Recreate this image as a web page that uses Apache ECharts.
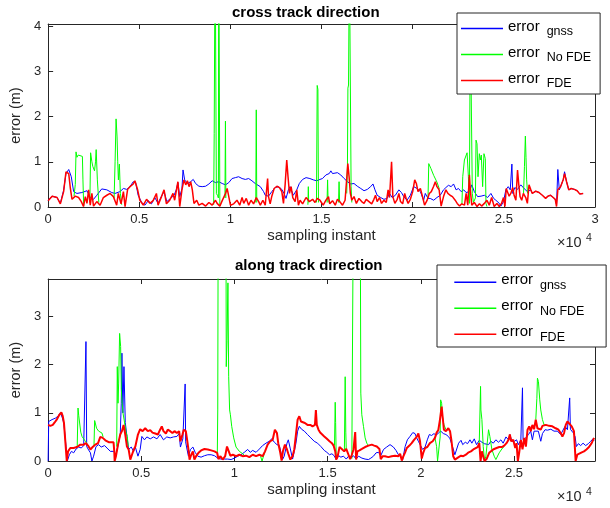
<!DOCTYPE html>
<html><head><meta charset="utf-8">
<script src="https://cdn.jsdelivr.net/npm/echarts@6/dist/echarts.min.js"></script>
<style>html,body{margin:0;padding:0;background:#fff}#c{width:610px;height:508px}</style>
</head><body><div id="c"></div>
<script>
// ---------- data (x = sampling instant, y = error in metres) ----------
const seriesNames = ['gnss', 'No FDE', 'FDE'];
const xTickLabels = ['0', '0.5', '1', '1.5', '2', '2.5', '3'];
const yTickLabelsTop = ['0', '1', '2', '3', '4'];
const yTickLabelsBottom = ['0', '1', '2', '3'];
const titles = ['cross track direction', 'along track direction'];

const blueTop = [[0,0.15],[220,0.24],[490,0.21],[670,0.08],[850,0.37],[980,0.74],[1130,0.83],[1270,0.67],[1400,0.34],[1580,0.30],[1850,0.32],[2130,0.36],[2310,0.21],[2490,0.17],[2670,0.26],[2940,0.40],[3220,0.38],[3490,0.32],[3670,0.30],[3940,0.34],[4130,0.41],[4310,0.39],[4490,0.45],[4670,0.56],[4800,0.54],[4940,0.26],[5130,0.10],[5310,0.04],[5490,0.14],[5670,0.07],[5850,0.21],[6030,0.08],[6220,0.24],[6360,0.34],[6510,0.12],[6720,0.19],[6910,0.26],[7030,0.38],[7120,0.54],[7220,0.23],[7340,0.40],[7400,0.82],[7490,0.60],[7640,0.52],[7820,0.56],[7960,0.61],[8090,0.52],[8270,0.46],[8450,0.45],[8640,0.46],[8820,0.51],[9000,0.58],[9180,0.54],[9360,0.56],[9550,0.52],[9730,0.49],[9910,0.54],[10090,0.63],[10270,0.65],[10450,0.67],[10640,0.63],[10820,0.61],[11000,0.63],[11180,0.58],[11360,0.52],[11640,0.45],[11820,0.34],[11910,0.26],[12090,0.24],[12270,0.34],[12450,0.43],[12640,0.45],[12820,0.39],[12940,0.30],[13050,0.19],[13180,0.38],[13270,0.45],[13450,0.26],[13640,0.38],[13780,0.52],[13960,0.61],[14150,0.65],[14360,0.63],[14550,0.60],[14730,0.58],[14910,0.61],[15050,0.63],[15240,0.71],[15420,0.74],[15510,0.80],[15600,0.74],[15690,0.71],[15870,0.76],[16050,0.71],[16240,0.63],[16420,0.56],[16600,0.51],[16780,0.52],[16960,0.46],[17150,0.41],[17330,0.36],[17510,0.39],[17690,0.45],[17820,0.51],[17930,0.38],[18050,0.26],[18240,0.21],[18420,0.17],[18600,0.19],[18730,0.30],[18870,0.21],[19050,0.26],[19240,0.38],[19380,0.32],[19510,0.23],[19690,0.15],[19870,0.26],[20050,0.45],[20240,0.41],[20420,0.34],[20600,0.15],[20690,0.30],[20840,0.19],[20960,0.19],[21150,0.15],[21330,0.21],[21510,0.26],[21690,0.38],[21820,0.43],[21960,0.48],[22110,0.45],[22240,0.51],[22380,0.38],[22510,0.41],[22660,0.34],[22800,0.38],[22930,0.32],[23110,0.34],[23240,0.49],[23380,0.34],[23560,0.23],[23750,0.24],[23930,0.26],[24110,0.21],[24290,0.30],[24440,0.19],[24560,0.15],[24750,0.08],[24840,0.02],[24980,0.12],[25110,0.38],[25240,0.45],[25350,0.38],[25440,0.95],[25490,0.30],[25600,0.43],[25750,0.39],[25930,0.49],[26110,0.41],[26290,0.34],[26470,0.38],[26560,0.30],[26750,0.35],[26930,0.32],[27110,0.26],[27290,0.19],[27420,0.24],[27560,0.26],[27710,0.21],[27820,0.17],[27890,0.05],[27960,0.83],[28040,0.38],[28110,0.45],[28260,0.61],[28330,0.78],[28440,0.56],[28560,0.38],[28690,0.41],[28870,0.39],[29020,0.36],[29160,0.29],[29250,0.30],[29350,0.30]];

const redTop = [[0,0.14],[220,0.24],[490,0.21],[670,0.07],[850,0.34],[980,0.78],[1130,0.74],[1220,0.41],[1310,0.17],[1490,0.24],[1670,0.21],[1820,0.12],[1940,0.01],[2040,0.23],[2130,0.08],[2220,0.38],[2310,0.04],[2400,0.30],[2490,0.02],[2670,0.12],[2850,0.04],[3030,0.21],[3220,0.26],[3400,0.30],[3580,0.23],[3760,0.04],[3850,0.30],[4000,0.07],[4130,0.34],[4220,0.01],[4360,0.39],[4490,0.45],[4670,0.51],[4760,0.58],[4910,0.38],[5030,0.15],[5220,0.04],[5400,0.17],[5580,0.08],[5760,0.14],[5940,0.30],[6030,0.04],[6220,0.23],[6360,0.38],[6490,0.07],[6670,0.15],[6850,0.30],[6940,0.15],[7120,0.56],[7220,0.01],[7340,0.38],[7450,0.60],[7550,0.49],[7640,0.58],[7730,0.45],[7820,0.56],[7910,0.38],[8000,0.08],[8150,0.15],[8270,0.04],[8450,0.08],[8640,0.02],[8820,0.10],[9000,0.04],[9180,0.15],[9270,0.08],[9420,0.02],[9550,0.14],[9730,0.30],[9820,0.41],[9910,0.23],[10000,0.04],[10180,0.07],[10360,0.15],[10510,0.04],[10640,0.21],[10730,0.08],[10870,0.19],[11000,0.04],[11130,0.15],[11270,0.07],[11420,0.21],[11550,0.12],[11640,0.04],[11780,0.15],[11910,0.04],[12040,0.63],[12090,0.23],[12180,0.07],[12270,0.24],[12400,0.41],[12550,0.46],[12690,0.43],[12820,0.34],[12910,0.08],[13000,0.49],[13090,1.04],[13160,0.67],[13240,0.30],[13330,0.45],[13420,0.21],[13550,0.12],[13640,0.38],[13730,0.04],[13820,0.15],[13960,0.07],[14150,0.21],[14330,0.12],[14510,0.17],[14640,0.10],[14760,0.19],[14910,0.15],[14960,0.17],[15090,0.04],[15240,0.15],[15380,0.23],[15450,0.07],[15600,0.14],[15750,0.04],[15870,0.17],[16000,0.12],[16150,0.04],[16290,0.15],[16360,0.52],[16440,0.96],[16510,0.67],[16580,0.30],[16660,0.15],[16780,0.23],[16910,0.08],[17050,0.19],[17200,0.12],[17330,0.08],[17450,0.17],[17600,0.12],[17750,0.07],[17870,0.17],[17960,0.26],[18050,0.12],[18180,0.21],[18290,0.08],[18420,0.15],[18550,0.10],[18650,0.38],[18730,0.21],[18840,1.0],[18910,0.23],[19020,0.08],[19150,0.17],[19240,0.30],[19330,0.12],[19450,0.07],[19560,0.30],[19640,0.19],[19750,0.08],[19870,0.17],[20000,0.34],[20110,0.60],[20200,0.52],[20290,0.34],[20420,0.41],[20550,0.21],[20650,0.04],[20780,0.14],[20910,0.30],[21020,0.34],[21150,0.46],[21240,0.56],[21330,0.45],[21450,0.38],[21560,0.02],[21690,0.23],[21820,0.38],[21930,0.30],[22050,0.26],[22180,0.23],[22330,0.15],[22440,0.08],[22570,0.02],[22690,0.07],[22840,0.04],[22930,0.30],[23020,0.04],[23110,0.71],[23160,0.38],[23240,0.04],[23380,0.10],[23530,0.01],[23660,0.07],[23780,0.02],[23930,0.08],[24070,0.15],[24200,0.04],[24330,0.21],[24470,0.01],[24620,0.08],[24750,0.01],[24870,0.08],[24980,0.21],[25060,0.01],[25130,0.41],[25200,0.38],[25290,0.24],[25380,0.30],[25490,0.43],[25560,0.26],[25660,0.15],[25750,0.82],[25820,0.49],[25890,0.23],[25980,0.15],[26070,0.30],[26200,0.21],[26290,0.08],[26380,0.49],[26470,0.39],[26560,0.30],[26750,0.35],[26930,0.32],[27110,0.26],[27290,0.19],[27420,0.24],[27560,0.26],[27710,0.21],[27820,0.17],[27890,0.01],[27960,0.38],[28110,0.45],[28260,0.61],[28330,0.74],[28440,0.56],[28560,0.38],[28690,0.41],[28870,0.39],[29020,0.36],[29160,0.29],[29250,0.30],[29350,0.30]];

// green (No FDE) only where it departs from the FDE curve; elsewhere it lies under it
const greenTopSegments = [
  [[1420,0.24],[1490,0.5],[1530,1.22],[1580,1.1],[1650,1.15],[1750,1.12],[1880,1.12],[1910,0.6],[1950,0.02]],
  [[2290,0.1],[2330,1.2],[2400,1.0],[2450,0.9],[2545,0.8],[2600,1.0],[2636,1.27],[2700,0.6],[2780,0.1]],
  [[3620,0.2],[3673,1.0],[3727,1.95],[3782,1.55],[3818,1.0],[3855,0.6],[3909,0.95],[3964,0.3],[4036,0.05]],
  [[9080,0.05],[9110,1.62],[9140,1.6],[9160,6],[9200,6],[9230,0.3],[9300,0.25],[9340,0.2],[9360,6],[9390,6],[9420,0.02]],
  [[9700,0.2],[9727,1.9],[9750,0.2]],
  [[11390,0.1],[11418,2.15],[11445,0.1]],
  [[14250,0.05],[14273,0.45],[14295,0.1]],
  [[14720,0.1],[14760,2.69],[14800,2.6],[14830,0.1]],
  [[15300,0.1],[15330,0.6],[15360,0.1]],
  [[15930,0.1],[15960,0.56],[15990,0.1]],
  [[16380,0.3],[16420,0.9],[16445,2.63],[16480,2.7],[16500,4.04],[16520,6],[16590,6],[16620,0.45],[16660,0.1]],
  [[20840,0.2],[20880,0.96],[21000,0.85],[21150,0.7],[21330,0.55],[21460,0.4]],
  [[22700,0.05],[22745,0.67],[22836,1.04],[22927,1.0],[22982,1.2],[23055,0.67],[23109,0.08],[23140,0.1],[23160,4.3],[23230,4.3],[23270,0.3],[23330,0.1],[23440,0.2],[23473,1.48],[23527,1.4],[23582,0.67],[23655,1.18],[23709,1.04],[23764,1.15],[23836,0.45],[23909,1.18],[23982,1.07],[24018,0.08],[24073,0.01]],
  [[26080,0.3],[26130,0.9],[26180,1.57],[26215,1.1],[26250,0.6],[26300,0.3]]
];

const blueBottom = [[0,0],[30,0.82],[210,0.86],[390,0.89],[530,0.93],[660,1.0],[750,0.91],[840,0.79],[960,0.30],[1030,0],[1140,0.13],[1250,0.20],[1370,0.17],[1500,0.25],[1640,0.29],[1780,0.27],[1910,0.32],[2000,0.30],[2030,2.48],[2070,0.30],[2140,0.25],[2270,0.17],[2350,0],[2440,0.10],[2570,0.30],[2710,0.34],[2850,0.29],[3030,0.32],[3210,0.25],[3340,0.20],[3510,0.20],[3640,0.13],[3780,0.37],[3870,0.55],[3925,1.2],[3960,2.24],[4010,1.0],[4070,1.96],[4140,0.8],[4230,0.51],[4320,0.24],[4460,0.29],[4590,0.20],[4680,0.29],[4820,0.10],[4940,0.24],[5030,0.51],[5170,0.44],[5300,0.50],[5480,0.46],[5660,0.50],[5840,0.46],[6010,0.55],[6190,0.44],[6370,0.50],[6550,0.48],[6730,0.50],[6910,0.51],[7030,0.57],[7100,0.29],[7230,0.46],[7330,0.45],[7354,1.6],[7380,0.40],[7430,0.29],[7530,0.10],[7640,0.24],[7770,0.29],[7890,0.18],[8030,0.10],[8210,0.08],[8390,0.11],[8570,0.13],[8750,0.13],[8930,0.11],[9100,0.06],[9280,0.04],[9460,0.04],[9640,0.04],[9820,0.03],[10000,0.06],[10180,0.10],[10350,0.13],[10530,0.18],[10710,0.24],[10850,0.18],[10980,0.22],[11160,0.18],[11340,0.25],[11510,0.32],[11690,0.37],[11870,0.41],[12000,0.46],[12140,0.39],[12280,0.34],[12410,0.32],[12500,0.17],[12580,0.03],[12670,0.10],[12820,0.37],[12890,0.44],[13000,0.25],[13120,0.04],[13210,0.20],[13300,0.37],[13390,0.62],[13480,0.72],[13600,0.66],[13750,0.62],[13920,0.55],[14100,0.48],[14280,0.41],[14460,0.37],[14640,0.30],[14690,0.29],[14820,0.22],[14960,0.18],[15100,0.13],[15230,0.15],[15350,0.11],[15460,0.03],[15590,0.11],[15710,0.08],[15850,0.10],[16000,0.04],[16120,0.10],[16250,0.06],[16390,0.11],[16530,0.04],[16660,0.10],[16840,0.06],[17010,0.04],[17190,0.03],[17320,0.06],[17460,0.10],[17600,0.17],[17730,0.18],[17850,0.11],[18000,0.24],[18170,0.29],[18350,0.34],[18530,0.29],[18670,0.22],[18800,0.13],[18920,0.10],[19030,0.03],[19160,0.30],[19280,0.44],[19420,0.51],[19570,0.59],[19690,0.57],[19780,0.48],[19870,0.41],[19990,0.32],[20100,0.24],[20230,0.29],[20350,0.44],[20460,0.55],[20580,0.53],[20710,0.57],[20820,0.53],[20940,0.58],[21070,0.62],[21210,0.57],[21350,0.55],[21480,0.51],[21570,0.46],[21710,0.29],[21830,0.13],[21920,0.17],[22030,0.37],[22160,0.43],[22250,0.34],[22390,0.39],[22510,0.36],[22640,0.44],[22740,0.37],[22870,0.46],[22990,0.34],[23140,0.43],[23280,0.39],[23410,0.36],[23490,0.39],[23640,0.34],[23760,0.41],[23890,0.37],[24030,0.44],[24170,0.39],[24300,0.44],[24420,0.37],[24570,0.50],[24710,0.44],[24780,0.55],[24890,0.41],[25030,0.41],[25140,0.44],[25240,0.34],[25370,0.44],[25430,0.44],[25458,1.52],[25490,0.44],[25640,0.48],[25780,0.55],[25900,0.62],[25990,0.44],[26080,0.62],[26170,0.65],[26310,0.62],[26440,0.41],[26530,0.57],[26670,0.65],[26800,0.64],[26980,0.66],[27150,0.62],[27330,0.62],[27510,0.55],[27600,0.57],[27740,0.72],[27870,0.65],[27960,0.68],[27992,1.31],[28030,0.66],[28170,0.59],[28280,0.51],[28350,0.30],[28460,0.36],[28580,0.32],[28710,0.37],[28850,0.32],[28990,0.36],[29120,0.41],[29240,0.46],[29300,0.42]];

const redBottom = [[0,0.75],[120,0.73],[250,0.75],[350,0.80],[480,0.87],[600,0.96],[710,1.01],[780,0.94],[850,0.79],[930,0.37],[1000,0],[1070,0.20],[1190,0.27],[1370,0.27],[1550,0.29],[1730,0.34],[1910,0.34],[2030,0.37],[2140,0.32],[2270,0.24],[2390,0.29],[2530,0.34],[2680,0.37],[2800,0.50],[2930,0.48],[3070,0.43],[3250,0.39],[3390,0.39],[3510,0.39],[3550,0.20],[3570,0],[3640,0.10],[3750,0.34],[3870,0.55],[3960,0.62],[4050,0.75],[4140,0.55],[4230,0.30],[4320,0.24],[4410,0.03],[4500,0.13],[4600,0.24],[4680,0.30],[4820,0.55],[4940,0.66],[5070,0.62],[5210,0.68],[5350,0.62],[5480,0.64],[5600,0.59],[5750,0.57],[5890,0.55],[6010,0.65],[6100,0.72],[6190,0.62],[6320,0.57],[6420,0.65],[6550,0.62],[6670,0.58],[6780,0.62],[6910,0.58],[7030,0.62],[7100,0.41],[7210,0.55],[7280,0.65],[7390,0.62],[7460,0.44],[7530,0.24],[7590,0.03],[7680,0.13],[7770,0.20],[7850,0.03],[7940,0.10],[8070,0.17],[8210,0.22],[8390,0.25],[8570,0.24],[8750,0.22],[8930,0.20],[9070,0.17],[9140,0.04],[9250,0.10],[9370,0.03],[9500,0.10],[9600,0.30],[9680,0.29],[9780,0.11],[9910,0.13],[10090,0.10],[10260,0.13],[10440,0.10],[10620,0.11],[10800,0.08],[10980,0.13],[11160,0.10],[11340,0.13],[11510,0.10],[11640,0.20],[11780,0.34],[11920,0.41],[12050,0.44],[12170,0.65],[12280,0.58],[12350,0.37],[12460,0.17],[12530,0.01],[12600,0.20],[12710,0.34],[12820,0.24],[12890,0.15],[13000,0.03],[13120,0.10],[13210,0.24],[13300,0.55],[13390,0.86],[13480,0.93],[13570,0.82],[13670,0.80],[13780,0.79],[13920,0.75],[14070,0.75],[14190,0.72],[14320,0.75],[14370,1.06],[14420,0.75],[14510,0.65],[14600,0.59],[14690,0.55],[14820,0.51],[14960,0.46],[15100,0.41],[15230,0.37],[15320,0.32],[15410,0.20],[15460,0.03],[15530,0.08],[15640,0.29],[15760,0.25],[15890,0.20],[16000,0.25],[16120,0.13],[16210,0.04],[16300,0.13],[16390,0.24],[16480,0.6],[16530,0.03],[16600,0.20],[16710,0.22],[16840,0.25],[17010,0.29],[17190,0.32],[17370,0.34],[17500,0.32],[17640,0.30],[17780,0.25],[17850,0.04],[17960,0.10],[18080,0.10],[18260,0.08],[18440,0.10],[18620,0.11],[18800,0.10],[18890,0.15],[18980,0.01],[19070,0.10],[19160,0.18],[19250,0.27],[19390,0.32],[19510,0.37],[19640,0.44],[19780,0.50],[19870,0.57],[19960,0.41],[20050,0.05],[20140,0.18],[20230,0.27],[20350,0.29],[20490,0.37],[20640,0.41],[20760,0.48],[20850,0.59],[20940,0.64],[21030,0.86],[21120,1.13],[21170,0.93],[21240,0.65],[21350,0.62],[21480,0.68],[21570,0.62],[21650,0.41],[21740,0.10],[21830,0.03],[21920,0.06],[22030,0.08],[22160,0.11],[22280,0.10],[22420,0.13],[22570,0.18],[22690,0.20],[22820,0.24],[22920,0.27],[23050,0.29],[23140,0.37],[23208,0],[23280,0.20],[23350,0.10],[23420,0],[23530,0.04],[23670,0.17],[23820,0.22],[23940,0.25],[24070,0.27],[24210,0.29],[24350,0.29],[24480,0.32],[24600,0.37],[24710,0.44],[24780,0.55],[24850,0.41],[24960,0.44],[25070,0.27],[25140,0.37],[25210,0],[25280,0.17],[25370,0.44],[25460,0.24],[25550,0.48],[25640,0.30],[25730,0.65],[25820,0.72],[25900,0.62],[25990,0.75],[26080,0.66],[26170,0.86],[26260,0.68],[26350,0.72],[26440,0.65],[26530,0.73],[26710,0.75],[26890,0.73],[27060,0.72],[27240,0.68],[27390,0.65],[27510,0.58],[27600,0.51],[27690,0.58],[27780,0.75],[27870,0.82],[27960,0.79],[28100,0.72],[28220,0.62],[28310,0],[28400,0.13],[28490,0.13],[28640,0.18],[28760,0.20],[28890,0.24],[29030,0.29],[29170,0.37],[29300,0.48]];

const greenBottomSegments = [
  [[1560,0.29],[1604,1.1],[1640,0.95],[1750,0.6],[1818,0.51],[1997,0.41],[2090,0.37]],
  [[2460,0.3],[2497,0.84],[2600,0.68],[2711,0.62],[2890,0.58],[2950,0.5]],
  [[3680,0.3],[3712,1.96],[3750,1.2],[3784,1.6],[3837,2.65],[3891,2.38],[3926,1.5],[3970,1.2],[4017,1.0],[4105,0.79],[4180,0.6],[4248,0.51],[4300,0.3]],
  [[9080,0.17],[9104,1.06],[9130,6],[9540,6],[9560,1.96],[9600,2.5],[9650,3.7],[9690,1.75],[9740,1.06],[9782,0.96],[9853,0.72],[9960,0.48],[10085,0.29],[10264,0.2],[10442,0.15],[10550,0.11]],
  [[11400,0.1],[11480,0.0],[11580,0.02],[11640,0.2]],
  [[14950,0.46],[15000,0.48],[15050,0.44]],
  [[15370,0.32],[15407,1.22],[15430,0.8],[15460,0.1]],
  [[15900,0.2],[15942,1.75],[15975,0.6],[16000,0.25]],
  [[16300,0.05],[16389,6],[16746,6],[16781,1.41],[16835,0.96],[16924,0.72],[17013,0.48],[17103,0.37],[17192,0.32]],
  [[20760,0.48],[20850,0.3],[20900,0.0],[21000,0.0],[21040,0.5],[21065,1.27],[21119,1.2],[21172,0.9],[21244,0.75],[21351,0.65]],
  [[23137,0.37],[23208,1.55],[23226,1.06],[23280,0.86],[23351,0.3],[23423,0],[23494,0.1],[23637,0.65],[23708,0.51],[23815,0.24],[23940,0.1],[24030,0.03],[24208,0.17],[24387,0.27],[24476,0.3]],
  [[26172,0.86],[26230,1.3],[26261,1.72],[26314,1.65],[26385,1.27],[26439,1.06],[26529,0.86],[26618,0.75],[26707,0.75]]
];

// ---------- chart ----------
const FONT = '"Liberation Sans", Arial, Helvetica, sans-serif';
const AX = '#262626';
const COLORS = ['#0000ff', '#00ff00', '#ff0000'];

function joinSegments(segs) {
  const out = [];
  segs.forEach((s, i) => {
    if (i > 0) out.push([(segs[i - 1][segs[i - 1].length - 1][0] + s[0][0]) / 2, '-']);
    s.forEach(p => out.push(p));
  });
  return out;
}

function lineSeries(name, data, color, width, idx, z) {
  return {
    type: 'line', name, data, xAxisIndex: idx, yAxisIndex: idx,
    symbol: 'none', showSymbol: false, clip: true, connectNulls: false,
    animation: false, z, silent: true,
    lineStyle: { color, width }, itemStyle: { color },
    emphasis: { disabled: true }
  };
}

function xAxesFor(grid, max, showMax) {
  const common = {
    type: 'value', gridIndex: grid, min: 0, max, interval: 5000,
    axisLine: { show: true, onZero: false, lineStyle: { color: AX, width: 1 } },
    axisTick: { show: true, inside: true, length: 5, lineStyle: { color: AX } },
    splitLine: { show: false }
  };
  return [
    Object.assign({}, common, {
      position: 'bottom',
      axisLabel: { color: AX, fontSize: 13, fontFamily: FONT, margin: 6, showMaxLabel: showMax,
        formatter: v => (v % 5000 === 0 ? xTickLabels[v / 5000] : '') },
      name: 'sampling instant', nameLocation: 'middle', nameGap: 21,
      nameTextStyle: { color: AX, fontSize: 15, fontFamily: FONT }
    }),
    Object.assign({}, common, { position: 'top', axisLabel: { show: false } })
  ];
}

function yAxesFor(grid, max, labels) {
  const common = {
    type: 'value', gridIndex: grid, min: 0, max, interval: 1,
    axisLine: { show: true, onZero: false, lineStyle: { color: AX, width: 1 } },
    axisTick: { show: true, inside: true, length: 5, lineStyle: { color: AX } },
    splitLine: { show: false }
  };
  return [
    Object.assign({}, common, {
      position: 'left',
      axisLabel: { color: AX, fontSize: 13, fontFamily: FONT, margin: 7, showMaxLabel: false,
        formatter: v => (Number.isInteger(v) && labels[v] !== undefined ? labels[v] : '') },
      name: 'error (m)', nameLocation: 'middle', nameGap: 18,
      nameTextStyle: { color: AX, fontSize: 14.5, fontFamily: FONT }
    }),
    Object.assign({}, common, { position: 'right', axisLabel: { show: false } })
  ];
}

const legendRich = {
  e: { fontSize: 15, fontFamily: FONT, color: '#000', lineHeight: 19, verticalAlign: 'top' },
  s: { fontSize: 12.5, fontFamily: FONT, color: '#000', lineHeight: 14, verticalAlign: 'bottom', padding: [9.5, 0, 0, 7] }
};
function legendFor(left, top, padding) {
  return {
    orient: 'vertical', left, top, padding, itemWidth: 42, itemHeight: 1.5, itemGap: 3.5,
    icon: 'rect',
    borderColor: AX, borderWidth: 1, backgroundColor: '#fff', selectedMode: false,
    data: seriesNames, z: 10,
    formatter: n => '{e|error}{s|' + n + '}',
    textStyle: { rich: legendRich }
  };
}

const option = {
  backgroundColor: '#fff',
  animation: false,
  title: [
    { text: titles[0], left: 232, top: 4, padding: 0, textStyle: { fontSize: 15, fontWeight: 'bold', fontFamily: FONT, color: '#000', lineHeight: 18 } },
    { text: titles[1], left: 235, top: 257, padding: 0, textStyle: { fontSize: 15, fontWeight: 'bold', fontFamily: FONT, color: '#000', lineHeight: 18 } }
  ],
  grid: [
    { left: 47, top: 24, width: 548, height: 183 },
    { left: 47, top: 279, width: 548, height: 182 }
  ],
  xAxis: [...xAxesFor(0, 30000, true), ...xAxesFor(1, 29350, false)],
  yAxis: [...yAxesFor(0, 4.05, yTickLabelsTop), ...yAxesFor(1, 3.78, yTickLabelsBottom)],
  legend: [
    legendFor(457, 13, [2.5, 9, 4, 4]),
    legendFor(437, 265, [4.2, 21.7, 3.3, 17.3])
  ],
  graphic: [
    { type: 'text', x: 557, y: 243, style: { text: '×10', font: '14.5px ' + FONT, fill: AX, verticalAlign: 'middle', align: 'left' } },
    { type: 'text', x: 586, y: 238, style: { text: '4', font: '10.5px ' + FONT, fill: AX, verticalAlign: 'middle', align: 'left' } },
    { type: 'text', x: 557, y: 497, style: { text: '×10', font: '14.5px ' + FONT, fill: AX, verticalAlign: 'middle', align: 'left' } },
    { type: 'text', x: 586, y: 492, style: { text: '4', font: '10.5px ' + FONT, fill: AX, verticalAlign: 'middle', align: 'left' } }
  ],
  series: [
    lineSeries(seriesNames[0], blueTop, COLORS[0], 1, 0, 2),
    lineSeries(seriesNames[1], joinSegments(greenTopSegments), COLORS[1], 1, 0, 3),
    lineSeries(seriesNames[2], redTop, COLORS[2], 1.5, 0, 4),
    lineSeries(seriesNames[0], blueBottom, COLORS[0], 1, 2, 2),
    lineSeries(seriesNames[1], joinSegments(greenBottomSegments), COLORS[1], 1, 2, 3),
    lineSeries(seriesNames[2], redBottom, COLORS[2], 2, 2, 4)
  ]
};

const chart = echarts.init(document.getElementById('c'), null, { renderer: 'canvas', width: 610, height: 508 });
chart.setOption(option);
</script></body></html>
